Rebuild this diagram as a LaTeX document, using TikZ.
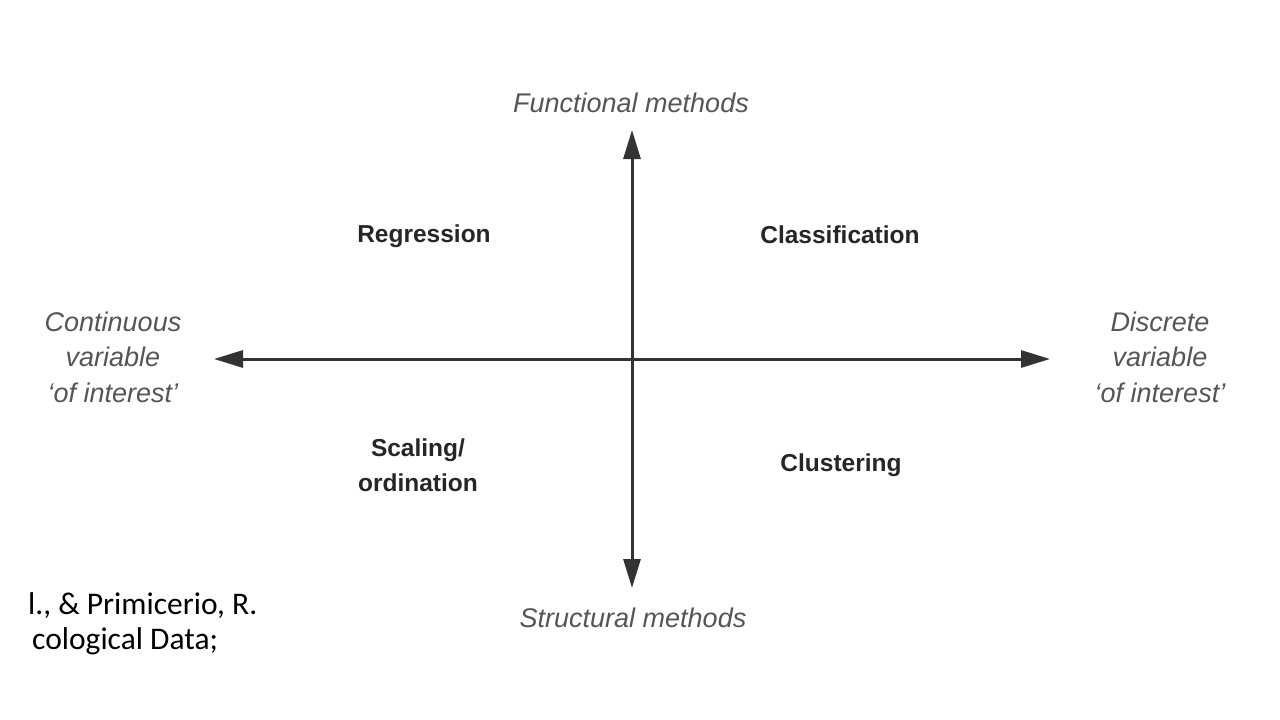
\documentclass[tikz,border=0pt]{standalone}
\usepackage{fontspec}
\setmainfont{Liberation Sans}
\newfontfamily\citefont{Carlito}
\usetikzlibrary{arrows.meta}
\definecolor{axisgray}{HTML}{333333}
\definecolor{labgray}{HTML}{555555}
\tikzset{
  axis/.style={draw=axisgray, line width=3pt, -{Triangle[length=29pt,width=17pt]}},
  axislab/.style={font=\fontsize{27}{35.5}\selectfont\itshape, text=labgray, align=center, inner sep=0pt},
  quad/.style={font=\fontsize{24.5}{35}\selectfont\bfseries, text=black!85, align=center, inner sep=0pt},
  cite/.style={font=\fontsize{31.5}{35}\selectfont\citefont, text=black, anchor=west, inner sep=0pt}
}
\begin{document}
\begin{tikzpicture}[x=1pt,y=-1pt]
\useasboundingbox (0,0) rectangle (1280,720);
\coordinate (c) at (632,359);
\coordinate (L) at (214,359);
\coordinate (R) at (1050,359);
\coordinate (T) at (632,130);
\coordinate (B) at (632,588);
\draw[axis] (c) -- (L);
\draw[axis] (c) -- (R);
\draw[axis] (c) -- (T);
\draw[axis] (c) -- (B);
\node[axislab] (fm) at (631,103) {Functional methods};
\node[axislab] (sm) at (633,618) {Structural methods};
\node[axislab] (cv) at (113,357) {Continuous\\variable\\`of interest'};
\node[axislab] (dv) at (1160,357) {Discrete\\variable\\`of interest'};
\node[quad] (reg) at (424,236) {Regression};
\node[quad] (cla) at (840,235) {Classification};
\node[quad] (sca) at (418,465) {Scaling/\\ordination};
\node[quad] (clu) at (841,465) {Clustering};
\node[cite] (c1) at (28,606) {l., \& Primicerio, R.};
\node[cite] (c2) at (32,641) {cological Data;};
\end{tikzpicture}
\end{document}
